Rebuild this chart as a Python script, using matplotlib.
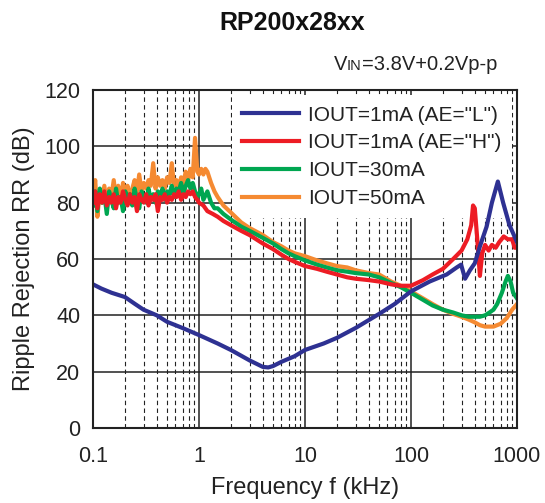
"""Ripple rejection vs frequency for RP200x28xx."""

import matplotlib
matplotlib.use("Agg")
import matplotlib.pyplot as plt
from matplotlib.ticker import FixedLocator, NullFormatter

plt.rcParams['font.family'] = ['Liberation Sans', 'DejaVu Sans']

# ---- data --------------------------------------------------------------------
labels = ['IOUT=1mA (AE="L")', 'IOUT=1mA (AE="H")', 'IOUT=30mA', 'IOUT=50mA']
colors = ['#2E3192', '#ED1C24', '#00A651', '#F58A32']

# noisy low band shared by the three upper curves (kHz)
f_low = [0.100, 0.105, 0.110, 0.116, 0.122, 0.128, 0.135, 0.142, 0.149, 0.157, 0.165,
         0.173, 0.182, 0.192, 0.202, 0.212, 0.223, 0.235, 0.247, 0.260, 0.273, 0.287,
         0.302, 0.318, 0.334, 0.351, 0.370, 0.389, 0.409, 0.430, 0.452, 0.476, 0.500,
         0.526, 0.554, 0.582, 0.613, 0.644, 0.678, 0.713, 0.750, 0.789, 0.830, 0.873,
         0.918, 0.966]

f_ael = [0.1, 0.12, 0.15, 0.2, 0.25, 0.3, 0.4, 0.5, 0.7, 1, 1.5, 2, 3, 4, 4.5, 5, 6, 8,
         10, 15, 20, 30, 50, 70, 100, 150, 217, 270, 297, 324, 360, 400, 447, 517, 580,
         660, 740, 850, 1000]
rr_ael = [51, 49.5, 48, 46.5, 44, 42, 40, 37.7, 35.5, 33, 30, 27.7, 24, 21.7, 21.5, 22,
          23.5, 25.5, 27.7, 30, 32, 35.5, 40.5, 44, 48.5, 52, 54.5, 57, 58, 53, 56, 58.5,
          64.5, 71.5, 80, 87.5, 80, 72, 66]

rr_aeh_low = [80, 84, 78, 83, 80, 84, 79, 82, 80, 83, 78, 82, 80, 84, 81, 79, 83, 80, 82,
              77, 83, 81, 80, 83, 79, 82, 81, 83, 77, 82, 81, 83, 80, 82, 81, 83, 82, 84,
              81, 83, 82, 84, 83, 84, 82, 81]
f_aeh_hi = [1.0, 1.1, 1.2, 1.35, 1.5, 1.7, 2.0, 2.5, 3, 4, 5, 6, 7, 8, 10, 13, 16, 20, 25,
            30, 40, 50, 65, 80, 100, 130, 160, 200, 250, 300, 340, 370, 385, 400, 420, 447,
            470, 500, 540, 580, 630, 680, 750, 820, 900, 950, 1000]
rr_aeh_hi = [80, 79, 77, 76, 75, 73.5, 72, 70, 68.5, 65.5, 63.5, 61.5, 60, 59, 57.5, 56.5,
             55.5, 54.5, 53.5, 53, 52.5, 52, 51, 50.5, 50.5, 52.5, 54.5, 56.5, 60, 63, 67,
             72, 79, 78, 68, 54, 62, 65, 63, 65, 64, 66, 68, 67, 67, 64, 64]

rr_30_low = [79, 84, 77, 85, 80, 83, 76, 84, 81, 78, 85, 80, 82, 77, 84, 80, 83, 79, 85,
             81, 78, 84, 82, 80, 85, 81, 83, 80, 84, 82, 85, 81, 84, 83, 86, 82, 85, 84,
             87, 83, 86, 88, 85, 87, 84, 82]
f_30_hi = [1.0, 1.05, 1.1, 1.2, 1.3, 1.4, 1.5, 1.7, 2.0, 2.5, 3, 4, 5, 6, 7, 8, 10, 13, 16,
           20, 25, 30, 40, 50, 65, 80, 100, 130, 160, 200, 250, 300, 350, 400, 447, 500,
           550, 600, 650, 720, 780, 820, 870, 920, 1000]
rr_30_hi = [83, 85, 81, 84, 80, 78, 78, 76, 74, 71.5, 70, 67.5, 65.5, 63.5, 62, 61, 59.5,
            58, 57, 56, 55.5, 55, 54.5, 53.5, 51.5, 50, 48, 45.5, 43.5, 42, 41, 40, 39.5,
            39.5, 39.5, 40, 41, 42, 44, 48, 52, 54, 52, 48, 46]

rr_50_low = [83, 88, 75, 84, 80, 86, 79, 85, 82, 88, 81, 86, 80, 87, 83, 86, 82, 85, 88,
             84, 90, 84, 87, 85, 88, 86, 94, 85, 89, 86, 88, 85, 89, 87, 94, 86, 88, 85,
             89, 87, 91, 88, 92, 89, 103, 91]
f_50_hi = [1.0, 1.05, 1.1, 1.15, 1.2, 1.3, 1.4, 1.5, 1.7, 2.0, 2.5, 3, 4, 5, 6, 7, 8, 10,
           13, 16, 20, 25, 30, 40, 50, 65, 80, 100, 130, 160, 200, 250, 300, 350, 400, 447,
           500, 600, 700, 800, 900, 1000]
rr_50_hi = [90, 92, 90, 92, 91, 87, 84, 82, 79, 76.5, 73, 71, 68.5, 66, 64.5, 63, 62, 61,
            59.5, 58.5, 57.5, 57, 56, 55, 54.5, 52, 50.5, 48.5, 46, 44, 42, 40.5, 39.5,
            38.5, 37.5, 36.5, 36, 36, 37, 39, 42, 44]

yticks = [0, 20, 40, 60, 80, 100, 120]
xticks = [0.1, 1, 10, 100, 1000]
xticklabels = ['0.1', '1', '10', '100', '1000']


def main():
    fig = plt.figure(figsize=(5.45, 5.03), dpi=100)
    ax = fig.add_axes([0.1706, 0.1491, 0.778, 0.672])

    series = [(f_ael, rr_ael),
              (f_low + f_aeh_hi, rr_aeh_low + rr_aeh_hi),
              (f_low + f_30_hi, rr_30_low + rr_30_hi),
              (f_low + f_50_hi, rr_50_low + rr_50_hi)]
    zorders = [6, 5, 4, 3]
    handles = []
    for (f, rr), lab, c, z in zip(series, labels, colors, zorders):
        h, = ax.plot(f, rr, color=c, lw=3.0, label=lab, zorder=z)
        handles.append(h)

    ax.set_xscale('log')
    ax.set_xlim(0.1, 1000)
    ax.set_ylim(0, 120)
    ax.set_xticks(xticks)
    ax.set_xticklabels(xticklabels)
    minors = [m * d for d in [0.1, 1, 10, 100] for m in range(2, 10)]
    ax.xaxis.set_minor_locator(FixedLocator(minors))
    ax.xaxis.set_minor_formatter(NullFormatter())
    ax.set_yticks(yticks)

    ax.grid(True, which='major', color='#222222', lw=1.1, ls='-')
    ax.grid(True, which='minor', axis='x', color='#222222', lw=0.8, ls=(0, (4, 3)))
    ax.set_axisbelow(True)
    ax.tick_params(which='both', length=0, labelsize=15.5, colors='#222222')
    ax.tick_params(axis='x', pad=13)
    ax.tick_params(axis='y', pad=9)
    for s in ax.spines.values():
        s.set_linewidth(1.5)
        s.set_color('#222222')
        s.set_zorder(7)

    ax.set_xlabel('Frequency f (kHz)', fontsize=17, color='#222222', labelpad=7)
    ax.set_ylabel('Ripple Rejection RR (dB)', fontsize=17, color='#222222', labelpad=7)

    leg = ax.legend(handles=handles, loc='upper right', bbox_to_anchor=(1.0, 1.0),
                    fontsize=15, frameon=True, facecolor='white', edgecolor='none',
                    framealpha=1, fancybox=False, handlelength=2.7, handletextpad=0.45,
                    labelspacing=0.42, borderaxespad=0.25, borderpad=0.5)
    leg.set_zorder(2)
    for t in leg.get_texts():
        t.set_color('#222222')

    fig.text(292 / 545, 1 - 22.5 / 503, 'RP200x28xx', ha='center', va='center',
             fontsize=18, fontweight='bold', color='#111111')

    # subtitle with the smaller "IN" on the same baseline
    fig.canvas.draw()
    rend = fig.canvas.get_renderer()
    inv = fig.transFigure.inverted()
    base_y = 1 - 70 / 503
    t_rest = fig.text(497 / 545, base_y, '=3.8V+0.2Vp-p', ha='right', va='baseline',
                      fontsize=14.5, color='#222222')
    x0 = inv.transform((t_rest.get_window_extent(rend).x0, 0))[0]
    t_in = fig.text(x0, base_y, 'IN', ha='right', va='baseline', fontsize=10.5,
                    color='#222222')
    x1 = inv.transform((t_in.get_window_extent(rend).x0, 0))[0]
    fig.text(x1, base_y, 'V', ha='right', va='baseline', fontsize=14.5, color='#222222')

    fig.savefig('out.png', dpi=100)


if __name__ == "__main__":
    main()
